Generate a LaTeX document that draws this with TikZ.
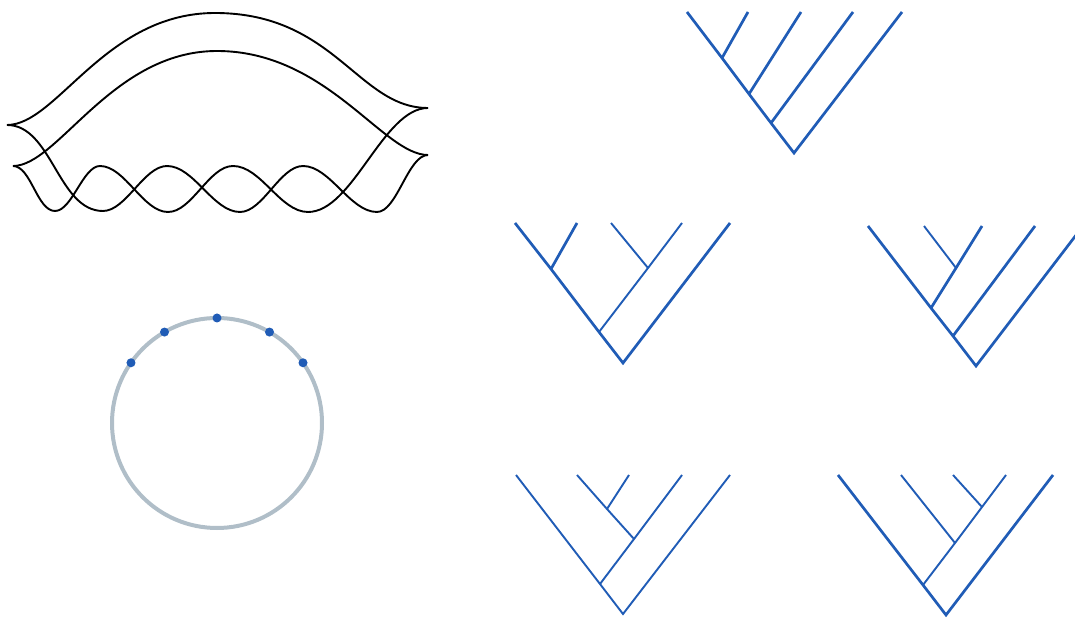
\documentclass[tikz,border=0pt]{standalone}
\usetikzlibrary{calc}
\definecolor{treeblue}{RGB}{32,92,182}
\definecolor{ringgray}{RGB}{176,190,200}
\begin{document}
\begin{tikzpicture}[x=1pt,y=1pt,
  strand/.style={black,line width=1.9pt},
  branch/.style={treeblue,line width=2.7pt,line join=miter},
  twig/.style={treeblue,line width=1.9pt,line join=miter},
  bead/.style={circle,fill=treeblue,inner sep=0pt,minimum size=9pt}]
  \clip (0,0) rectangle (1075,618);
  \draw[strand] (7,493) .. controls (57,493) and (105,605) .. (215,605) .. controls (335,605) and (358,510) .. (428,510);
  \draw[strand] (13,452) .. controls (58,452) and (112,567) .. (217,567) .. controls (327,567) and (383,463) .. (428,463);
  \draw[strand] (7,493) .. controls (52,493) and (58,407) .. (103,407)
    .. controls (126,407) and (144,452) .. (167,452)
    .. controls (194,452) and (213,406) .. (240,406)
    .. controls (263,406) and (280,452) .. (303,452)
    .. controls (330,452) and (350,406) .. (377,406)
    .. controls (397,406) and (408,463) .. (428,463);
  \draw[strand] (13,452) .. controls (31,452) and (37,407) .. (55,407)
    .. controls (72,407) and (83,452) .. (100,452)
    .. controls (125,452) and (143,406) .. (168,406)
    .. controls (192,406) and (209,452) .. (233,452)
    .. controls (261,452) and (280,406) .. (308,406)
    .. controls (353,406) and (383,510) .. (428,510);
  \coordinate (ring) at (217,195);
  \draw[ringgray,line width=4pt] (ring) circle (105);
  \foreach \a in {35,60,90,120,145}
    \node[bead] (b\a) at ($(ring)+(\a:105)$) {};
  \coordinate (t1l1) at (687,606);
  \coordinate (t1l2) at (748,606);
  \coordinate (t1l3) at (801,606);
  \coordinate (t1l4) at (853,606);
  \coordinate (t1l5) at (902,606);
  \coordinate (t1n1) at (722,560);
  \coordinate (t1n2) at (749,524);
  \coordinate (t1n3) at (771,495);
  \coordinate (t1r) at (794,465);
  \draw[branch] (t1l1) -- (t1n1) -- (t1n2) -- (t1n3) -- (t1r) -- (t1l5);
  \draw[branch] (t1n1) -- (t1l2);
  \draw[branch] (t1n2) -- (t1l3);
  \draw[branch] (t1n3) -- (t1l4);
  \coordinate (t2l1) at (515,395);
  \coordinate (t2l2) at (577,395);
  \coordinate (t2l3) at (611,395);
  \coordinate (t2l4) at (682,395);
  \coordinate (t2l5) at (730,395);
  \coordinate (t2n1) at (551,349);
  \coordinate (t2n2) at (648,350);
  \coordinate (t2n3) at (599,286);
  \coordinate (t2r) at (623,255);
  \draw[branch] (t2l1) -- (t2n1) -- (t2n3) -- (t2r) -- (t2l5);
  \draw[branch] (t2n1) -- (t2l2);
  \draw[twig] (t2n3) -- (t2n2) -- (t2l4);
  \draw[twig] (t2n2) -- (t2l3);
  \coordinate (t3l1) at (868,392);
  \coordinate (t3l2) at (924,392);
  \coordinate (t3l3) at (982,392);
  \coordinate (t3l4) at (1035,392);
  \coordinate (t3l5) at (1083,392);
  \coordinate (t3n1) at (956,350);
  \coordinate (t3n2) at (931,310);
  \coordinate (t3n3) at (953,282);
  \coordinate (t3r) at (976,252);
  \draw[branch] (t3l1) -- (t3n2) -- (t3n3) -- (t3r) -- (t3l5);
  \draw[branch] (t3n2) -- (t3n1) -- (t3l3);
  \draw[twig] (t3n1) -- (t3l2);
  \draw[branch] (t3n3) -- (t3l4);
  \coordinate (t4l1) at (516,143);
  \coordinate (t4l2) at (577,143);
  \coordinate (t4l3) at (629,143);
  \coordinate (t4l4) at (682,143);
  \coordinate (t4l5) at (730,143);
  \coordinate (t4n1) at (607,109);
  \coordinate (t4n2) at (634,79);
  \coordinate (t4n3) at (600,34);
  \coordinate (t4r) at (623,4);
  \draw[twig] (t4l1) -- (t4n3) -- (t4r) -- (t4l5);
  \draw[twig] (t4n3) -- (t4n2) -- (t4l4);
  \draw[twig] (t4l2) -- (t4n1) -- (t4n2);
  \draw[twig] (t4n1) -- (t4l3);
  \coordinate (t5l1) at (838,143);
  \coordinate (t5l2) at (901,143);
  \coordinate (t5l3) at (953,143);
  \coordinate (t5l4) at (1006,143);
  \coordinate (t5l5) at (1053,143);
  \coordinate (t5n1) at (982,111);
  \coordinate (t5n2) at (955,75);
  \coordinate (t5n3) at (923,33);
  \coordinate (t5r) at (946,3);
  \draw[branch] (t5l1) -- (t5n3) -- (t5r) -- (t5l5);
  \draw[twig] (t5n3) -- (t5n2) -- (t5n1) -- (t5l4);
  \draw[twig] (t5n2) -- (t5l2);
  \draw[twig] (t5n1) -- (t5l3);
\end{tikzpicture}
\end{document}
